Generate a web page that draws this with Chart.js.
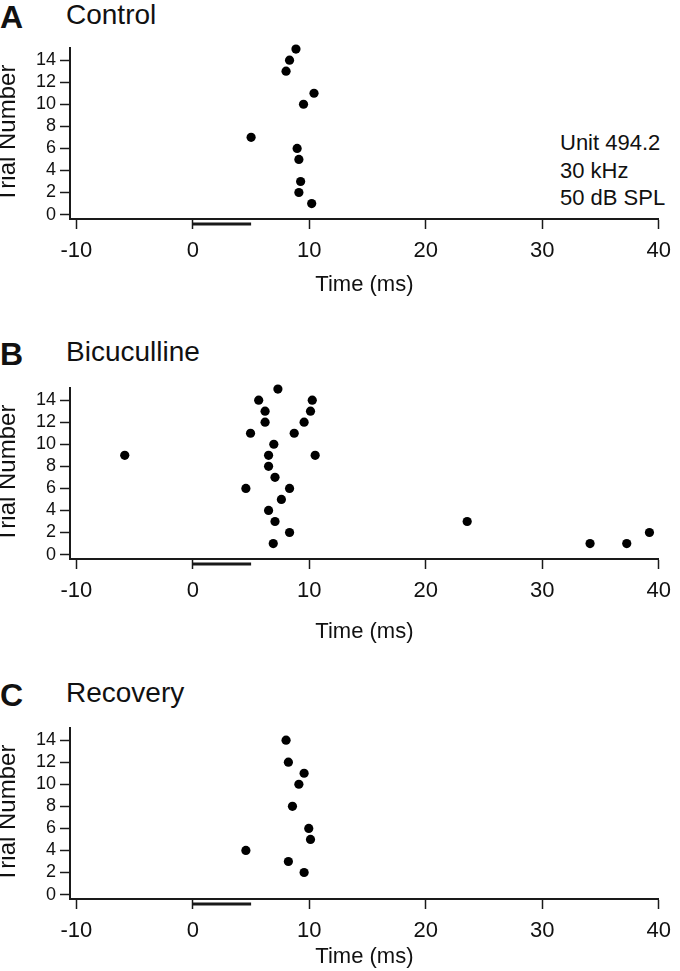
<!DOCTYPE html>
<html>
<head>
<meta charset="utf-8">
<script src="https://cdn.jsdelivr.net/npm/chart.js@4"></script>
<style>
  body { margin: 0; background: #fff; }
  #wrap { position: relative; width: 680px; height: 971px; font-family: 'Liberation Sans', Arial, sans-serif; color: #111; }
  canvas { position: absolute; left: 0; }
  .letter { position: absolute; left: 0; font-size: 32px; line-height: 32px; font-weight: bold; }
  .name { position: absolute; left: 66px; font-size: 28px; line-height: 28px; }
  .info { position: absolute; left: 560px; top: 129px; font-size: 22px; line-height: 27.5px; }
</style>
</head>
<body>
<div id="wrap">
  <div class="letter" style="top:1px">A</div><div class="name" style="top:1px">Control</div>
  <div class="letter" style="top:338px">B</div><div class="name" style="top:338px">Bicuculline</div>
  <div class="letter" style="top:679px">C</div><div class="name" style="top:679px">Recovery</div>
  <div class="info">Unit 494.2<br>30 kHz<br>50 dB SPL</div>
  <canvas id="chartA" width="680" height="300" style="top:0px"></canvas>
  <canvas id="chartB" width="680" height="330" style="top:320px"></canvas>
  <canvas id="chartC" width="680" height="311" style="top:660px"></canvas>
</div>
<script>
// axes
const xTicks = [-10, 0, 10, 20, 30, 40];
const yTicks = [0, 2, 4, 6, 8, 10, 12, 14];
const stimulus = [0, 5]; // stimulus on/off (ms)

// spike times (ms) and trial numbers
const controlTimes  = [8.85, 8.3, 8.0, 10.4, 9.5, 5.0, 8.95, 9.1, 9.25, 9.1, 10.2];
const controlTrials = [15, 14, 13, 11, 10, 7, 6, 5, 3, 2, 1];

const bicTimes  = [7.3, 5.65, 10.25, 6.2, 10.1, 6.2, 9.55, 4.95, 8.7, 6.95, -5.85, 6.5, 10.5, 6.5, 7.05, 4.55, 8.3, 7.6, 6.5, 7.05, 8.3, 6.9, 23.55, 34.1, 37.25, 39.2];
const bicTrials = [15, 14, 14, 13, 13, 12, 12, 11, 11, 10, 9, 9, 9, 8, 7, 6, 6, 5, 4, 3, 2, 1, 3, 1, 1, 2];

const recTimes  = [8.0, 8.2, 9.55, 9.1, 8.55, 9.95, 10.1, 4.55, 8.2, 9.55];
const recTrials = [14, 12, 11, 10, 8, 6, 5, 4, 3, 2];

Chart.defaults.font.family = "'Liberation Sans', Arial, sans-serif";
Chart.defaults.color = '#111';

const ink = '#1a1a1a';

// stimulus bar under the time axis
const stimBar = {
  id: 'stimBar',
  afterDraw(chart) {
    const xs = chart.scales.x, ys = chart.scales.y;
    const ctx = chart.ctx;
    ctx.save();
    ctx.strokeStyle = ink;
    ctx.lineWidth = 3;
    ctx.beginPath();
    ctx.moveTo(xs.getPixelForValue(stimulus[0]), ys.bottom + 5);
    ctx.lineTo(xs.getPixelForValue(stimulus[1]), ys.bottom + 5);
    ctx.stroke();
    ctx.restore();
  }
};

function makeRaster(id, times, trials, padTop, axisH, titlePad) {
  const pts = times.map((t, i) => ({ x: t, y: trials[i] }));
  return new Chart(document.getElementById(id), {
    type: 'scatter',
    data: {
      datasets: [{
        data: pts,
        backgroundColor: '#000',
        borderWidth: 0,
        pointRadius: 4.6,
        pointHoverRadius: 4.6,
        clip: false
      }]
    },
    options: {
      responsive: false,
      animation: false,
      events: [],
      layout: { padding: { top: padTop, right: 12, left: 0, bottom: 0 } },
      plugins: { legend: { display: false }, tooltip: { enabled: false } },
      scales: {
        x: {
          type: 'linear',
          min: -10.55,
          max: 40,
          afterBuildTicks: s => { s.ticks = xTicks.map(v => ({ value: v })); },
          afterFit: s => { s.height = axisH; },
          grid: { drawOnChartArea: false, drawTicks: true, tickLength: 10, tickWidth: 1.5, tickColor: ink },
          border: { display: true, width: 2, color: ink },
          ticks: { font: { size: 22 }, padding: 9, maxRotation: 0, autoSkip: false },
          title: { display: true, text: 'Time (ms)', font: { size: 22 }, padding: { top: 0, bottom: titlePad } }
        },
        y: {
          type: 'linear',
          min: -0.4,
          max: 15.1,
          afterBuildTicks: s => { s.ticks = yTicks.map(v => ({ value: v })); },
          afterFit: s => { s.width = 70; },
          grid: { drawOnChartArea: false, drawTicks: true, tickLength: 10, tickWidth: 1.5, tickColor: ink },
          border: { display: true, width: 2, color: ink },
          ticks: { font: { size: 18 }, padding: 4, autoSkip: false },
          title: { display: true, text: 'Trial Number', font: { size: 24, lineHeight: 0.7 }, padding: 0 }
        }
      }
    },
    plugins: [stimBar]
  });
}

makeRaster('chartA', controlTimes, controlTrials, 48, 81, 2);
makeRaster('chartB', bicTimes, bicTrials, 68, 91, 5);
makeRaster('chartC', recTimes, recTrials, 68, 72, 1);
</script>
</body>
</html>
